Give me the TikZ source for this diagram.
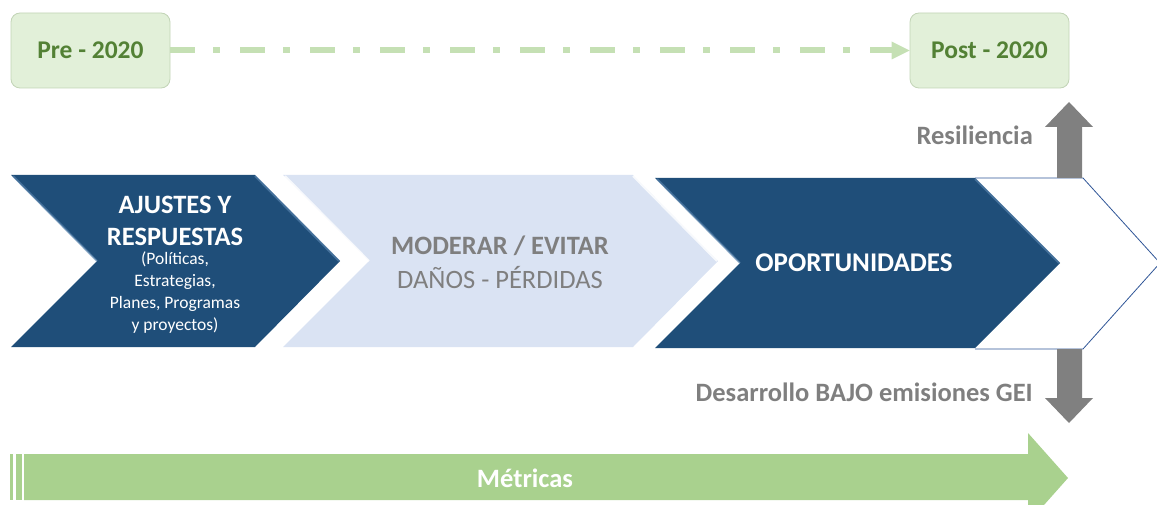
\documentclass[tikz,border=0pt]{standalone}
\usepackage{fontspec}
\setmainfont{Carlito}
\usetikzlibrary{arrows.meta}
\definecolor{dblue}{HTML}{1F4E79}
\definecolor{dbluehi}{HTML}{5B86B0}
\definecolor{lblue}{HTML}{DAE3F3}
\definecolor{lgreen}{HTML}{E2F0D9}
\definecolor{gborder}{HTML}{C2D4B6}
\definecolor{gtext}{HTML}{538135}
\definecolor{dashgreen}{HTML}{C5E0B4}
\definecolor{mgreen}{HTML}{A9D18E}
\definecolor{gtxt}{HTML}{7F7F7F}
\definecolor{garrow}{HTML}{808080}
\definecolor{outblue}{HTML}{2F5597}
\tikzset{
  yearbox/.style={draw=gborder, line width=0.8pt, fill=lgreen, rounded corners=9pt,
    minimum width=159pt, minimum height=75pt, inner sep=0pt,
    font=\fontsize{25.5}{30}\selectfont\bfseries, text=gtext},
  timeline/.style={draw=dashgreen, line width=6pt,
    dash pattern=on 25pt off 18pt on 7pt off 20pt,
    -{Triangle[length=18pt,width=18pt,line width=0pt]}, shorten >=0pt},
  whitetxt/.style={text=white, align=center, inner sep=0pt},
  graytxt/.style={text=gtxt, align=center, inner sep=0pt},
  blockarrow/.style={fill=garrow, draw=none},
}
\begin{document}
\begin{tikzpicture}[x=1pt,y=-1pt]
\useasboundingbox (0,0) rectangle (1157,505);

% year boxes and timeline
\node[yearbox] (pre) at (90.5,50.5) {Pre - 2020};
\node[yearbox] (post) at (989.5,50.5) {Post - 2020};
\draw[timeline] (pre.east) -- (post.west);

% white back chevron (right)
\fill[white] (975,178) -- (1083,178) -- (1160,263) -- (1083,349) -- (975,349) -- cycle;
\draw[outblue, line width=0.8pt] (975,178) -- (1083,178) -- (1160,263) -- (1083,349) -- (975,349);

% gray block arrows
\path[blockarrow] (1057,178) -- (1057,127) -- (1045,127) -- (1069,102) -- (1093,127) -- (1082,127) -- (1082,178) -- cycle;
\path[blockarrow] (1057,349) -- (1057,398) -- (1045,398) -- (1069,423) -- (1093,398) -- (1082,398) -- (1082,349) -- cycle;

% chevron 1
\fill[dblue] (11,175) -- (255,175) -- (340,261) -- (255,347) -- (11,347) -- (97,261) -- cycle;
\draw[dbluehi, line width=2pt, opacity=0.6] (13,176) -- (97,261);
\draw[dbluehi, line width=2pt, opacity=0.6] (255,176) -- (339,261);
% chevron 2
\fill[lblue] (283,175) -- (633,175) -- (718,261) -- (633,347) -- (283,347) -- (369,261) -- cycle;
\draw[white, line width=2pt, opacity=0.8] (285,176) -- (369,261);
\draw[white, line width=2pt, opacity=0.8] (633,176) -- (717,261);
% chevron 3
\fill[dblue] (655,178) -- (975,178) -- (1060,263) -- (975,348) -- (655,348) -- (740,263) -- cycle;
\draw[dbluehi, line width=2pt, opacity=0.6] (657,179) -- (740,263);
\draw[dbluehi, line width=2pt, opacity=0.6] (975,179) -- (1059,263);

% chevron texts
\node[whitetxt, font=\fontsize{26.5}{32}\selectfont\bfseries] (ajt) at (175,221) {AJUSTES Y\\RESPUESTAS};
\node[whitetxt, font=\fontsize{17.5}{21.7}\selectfont, anchor=north] (ajs) at (175,252) {(Políticas,\\Estrategias,\\Planes, Programas\\y proyectos)};
\node[graytxt, font=\fontsize{26.5}{30}\selectfont\bfseries] (mod) at (500,246) {MODERAR / EVITAR};
\node[graytxt, font=\fontsize{26.5}{30}\selectfont] (dan) at (500,278) {DAÑOS - PÉRDIDAS};
\node[whitetxt, font=\fontsize{27}{30}\selectfont\bfseries] (opo) at (854,263) {OPORTUNIDADES};

% side labels
\node[graytxt, font=\fontsize{26.5}{30}\selectfont\bfseries, anchor=east] (res) at (1033,135) {Resiliencia};
\node[graytxt, font=\fontsize{26.5}{30}\selectfont\bfseries, anchor=east] (des) at (1033,392) {Desarrollo BAJO emisiones GEI};

% metrics arrow
\fill[mgreen] (10,454) rectangle (13,500);
\fill[mgreen] (16,454) rectangle (22,500);
\fill[mgreen] (24,454) -- (1028,454) -- (1028,433) -- (1068,478) -- (1028,523) -- (1028,500) -- (24,500) -- cycle;
\node[whitetxt, font=\fontsize{26.5}{30}\selectfont\bfseries] (met) at (525,478) {Métricas};
\end{tikzpicture}
\end{document}
